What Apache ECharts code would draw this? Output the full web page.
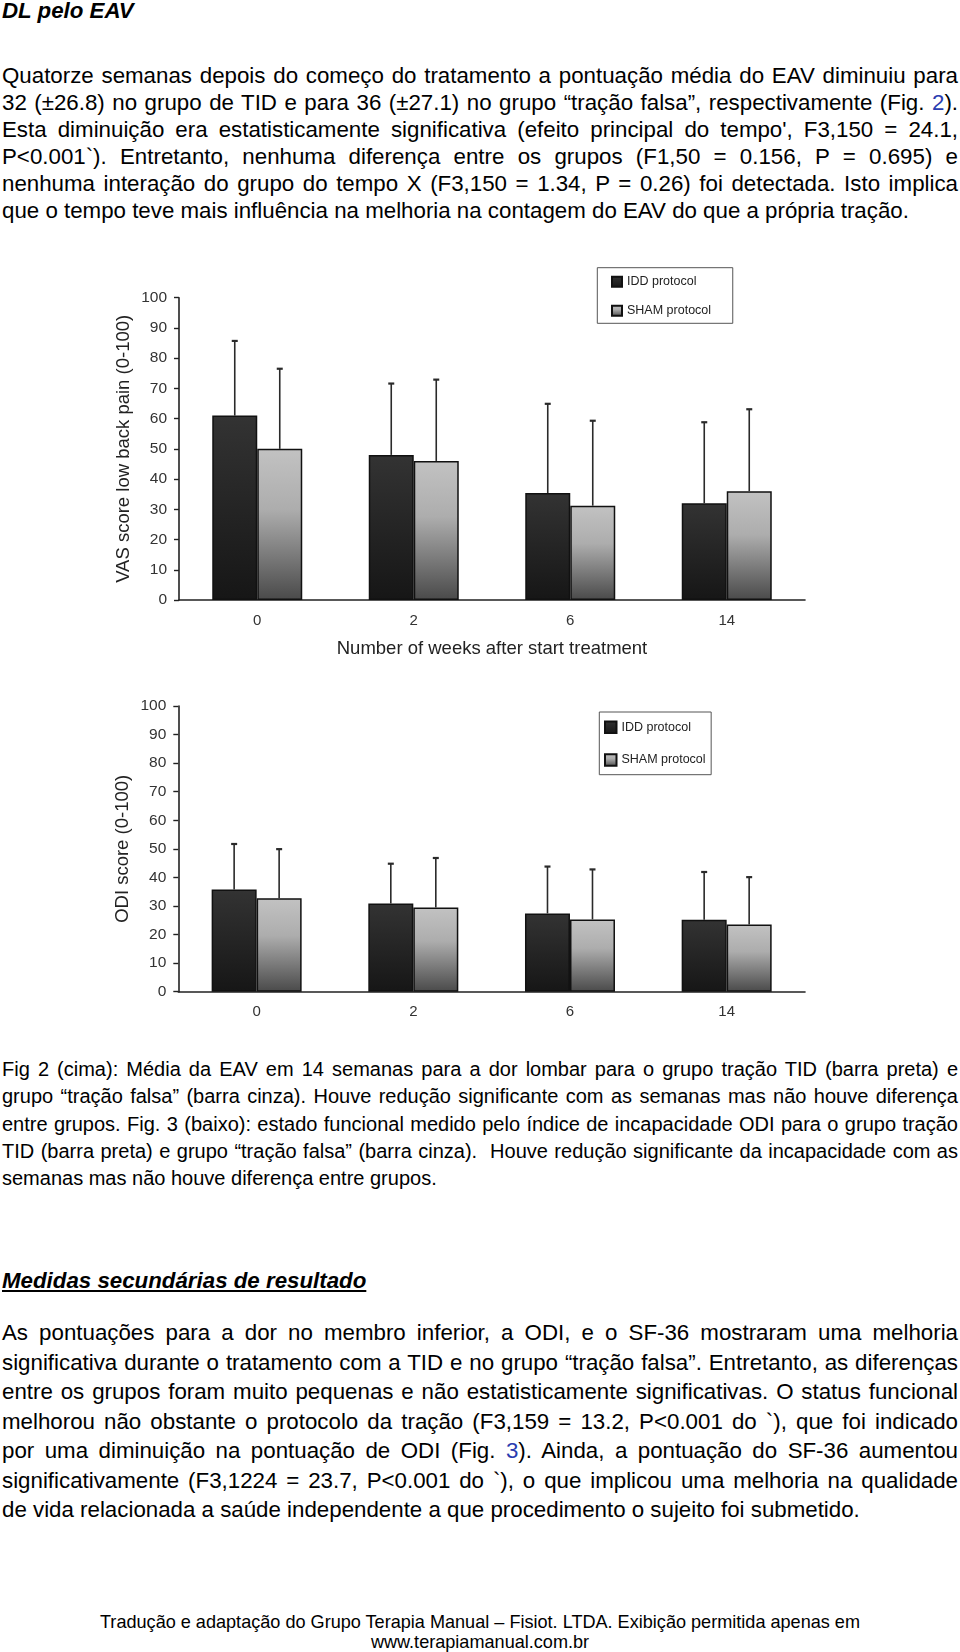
<!DOCTYPE html>
<html>
<head>
<meta charset="utf-8">
<script src="https://cdn.jsdelivr.net/npm/echarts@6/dist/echarts.min.js"></script>
<style>
  html, body { margin:0; padding:0; background:#fff; }
  body { width:960px; height:1652px; position:relative; overflow:hidden;
         font-family:"Liberation Sans", Arial, sans-serif; color:#000; }
  .blk { position:absolute; left:2px; width:956px; }
  .ln { text-align:justify; text-align-last:justify; white-space:normal; }
  .ln.last { text-align:left; text-align-last:left; }
  .h { font-weight:bold; font-style:italic; font-size:22.3px; line-height:26px; }
  .body { font-size:22.3px; line-height:29.5px; }
  .cap { font-size:20px; line-height:27.3px; }
  .foot { position:absolute; left:0; width:960px; text-align:center; font-size:18.1px; line-height:19.5px; }
  .lnk { color:#2a3cb0; }
  #chart { position:absolute; left:0; top:0; width:960px; height:1652px; }
</style>
</head>
<body>
<div class="blk h" style="top:-2px;">DL pelo EAV</div>
<div class="blk body" id="p1" style="top:62px; line-height:27px;"></div>
<div class="blk cap" id="cap" style="top:1056px;"></div>
<div class="blk h" style="top:1268px;"><span style="text-decoration:underline;">Medidas secundárias de resultado</span></div>
<div class="blk body" id="p2" style="top:1318px;"></div>
<div class="foot" style="top:1613px;">Tradução e adaptação do Grupo Terapia Manual – Fisiot. LTDA. Exibição permitida apenas em<br>www.terapiamanual.com.br</div>
<div id="chart"></div>
<script>
// ---- text lines ----
const para1 = [
  'Quatorze semanas depois do começo do tratamento a pontuação média do EAV diminuiu para',
  '32 (±26.8) no grupo de TID e para 36 (±27.1) no grupo “tração falsa”, respectivamente (Fig. <span class="lnk">2</span>).',
  'Esta diminuição era estatisticamente significativa (efeito principal do tempo\', F3,150 = 24.1,',
  'P&lt;0.001`). Entretanto, nenhuma diferença entre os grupos (F1,50 = 0.156, P = 0.695) e',
  'nenhuma interação do grupo do tempo X (F3,150 = 1.34, P = 0.26) foi detectada. Isto implica',
  'que o tempo teve mais influência na melhoria na contagem do EAV do que a própria tração.'
];
const caption = [
  'Fig 2 (cima): Média da EAV em 14 semanas para a dor lombar para o grupo tração TID (barra preta) e',
  'grupo “tração falsa” (barra cinza). Houve redução significante com as semanas mas não houve diferença',
  'entre grupos. Fig. 3 (baixo): estado funcional medido pelo índice de incapacidade ODI para o grupo tração',
  'TID (barra preta) e grupo “tração falsa” (barra cinza).&nbsp; Houve redução significante da incapacidade com as',
  'semanas mas não houve diferença entre grupos.'
];
const para2 = [
  'As pontuações para a dor no membro inferior, a ODI, e o SF-36 mostraram uma melhoria',
  'significativa durante o tratamento com a TID e no grupo “tração falsa”. Entretanto, as diferenças',
  'entre os grupos foram muito pequenas e não estatisticamente significativas. O status funcional',
  'melhorou não obstante o protocolo da tração (F3,159 = 13.2, P&lt;0.001 do `), que foi indicado',
  'por uma diminuição na pontuação de ODI (Fig. <span class="lnk">3</span>). Ainda, a pontuação do SF-36 aumentou',
  'significativamente (F3,1224 = 23.7, P&lt;0.001 do `), o que implicou uma melhoria na qualidade',
  'de vida relacionada a saúde independente a que procedimento o sujeito foi submetido.'
];
function fill(id, lines) {
  document.getElementById(id).innerHTML = lines.map((l, i) =>
    '<div class="ln' + (i === lines.length - 1 ? ' last' : '') + '">' + l + '</div>').join('');
}
fill('p1', para1); fill('cap', caption); fill('p2', para2);

// ---- chart data ----
const weeks = ['0', '2', '6', '14'];
const yTicks = [0, 100, 10];
const vasIDD = [61, 48, 35.4, 32];
const vasIDDsd = [24.7, 23.6, 29.5, 26.8];
const vasSHAM = [50, 46, 31.2, 36];
const vasSHAMsd = [26.5, 26.9, 28.1, 27.1];
const odiIDD = [35.8, 30.9, 27.4, 25.2];
const odiIDDsd = [15.9, 13.9, 16.4, 16.7];
const odiSHAM = [32.7, 29.5, 25.3, 23.5];
const odiSHAMsd = [17.2, 17.3, 17.5, 16.6];
const names = ['IDD protocol', 'SHAM protocol'];

const BAR_W = 45;
const iddFill = { type:'linear', x:0, y:0, x2:0, y2:1,
  colorStops:[{offset:0, color:'#333333'}, {offset:1, color:'#161616'}] };
const shamFill = { type:'linear', x:0, y:0, x2:0, y2:1,
  colorStops:[{offset:0, color:'#c2c2c2'}, {offset:0.4, color:'#adadad'}, {offset:1, color:'#4a4a4a'}] };

function errRender(sign) {
  return function (params, api) {
    const x = api.value(0), m = api.value(1), s = api.value(2);
    const b = api.coord([x, m]);
    const t = api.coord([x, m + s]);
    const px = b[0] + sign * BAR_W / 2;
    return { type:'group', children:[
      { type:'line', shape:{ x1:px, y1:b[1], x2:px, y2:t[1] }, style:{ stroke:'#2a2a2a', lineWidth:1.6 } },
      { type:'line', shape:{ x1:px - 3, y1:t[1], x2:px + 3, y2:t[1] }, style:{ stroke:'#2a2a2a', lineWidth:2.2 } }
    ]};
  };
}

function axesFor(gi, yName, xName) {
  const x = {
    type:'category', gridIndex:gi, data:weeks,
    axisLine:{ lineStyle:{ color:'#222', width:1.6 } },
    axisTick:{ show:false },
    axisLabel:{ color:'#333', fontSize:15, margin:13, fontFamily:'Liberation Sans' },
    name:xName, nameLocation:'middle', nameGap:39, nameMoveOverlap:false,
    nameTextStyle:{ color:'#222', fontSize:18.5, fontFamily:'Liberation Sans' }
  };
  const y = {
    type:'value', gridIndex:gi, min:yTicks[0], max:yTicks[1], interval:yTicks[2],
    axisLine:{ show:true, lineStyle:{ color:'#222', width:1.6 } },
    axisTick:{ show:true, inside:false, length:5, lineStyle:{ color:'#222', width:1.4 } },
    splitLine:{ show:false },
    axisLabel:{ color:'#333', fontSize:15.5, margin:12, fontFamily:'Liberation Sans' },
    name:yName, nameLocation:'middle', nameRotate:90, nameGap:46, nameMoveOverlap:false,
    nameTextStyle:{ color:'#222', fontSize:18.5, fontFamily:'Liberation Sans' }
  };
  return [x, y];
}

const [x0, y0] = axesFor(0, 'VAS score low back pain (0-100)', 'Number of weeks after start treatment');
const [x1, y1] = axesFor(1, 'ODI score (0-100)', '');

function bars(name, vals, fillC, gi) {
  return { type:'bar', name:name, xAxisIndex:gi, yAxisIndex:gi, data:vals,
    barWidth:BAR_W, barGap:'0%',
    itemStyle:{ color:fillC, borderColor:'#111', borderWidth:1.5 }, z:2 };
}
function errs(name, vals, sds, sign, gi) {
  return { type:'custom', name:name, xAxisIndex:gi, yAxisIndex:gi,
    data:vals.map((v, i) => [i, v, sds[i]]), renderItem:errRender(sign), z:3, silent:true };
}

const chart = echarts.init(document.getElementById('chart'), null, { renderer:'canvas' });
chart.setOption({
  animation:false,
  backgroundColor:'transparent',
  textStyle:{ fontFamily:'Liberation Sans' },
  grid:[
    { left:179, top:297.7, width:626, height:302.3 },
    { left:178.3, top:706, width:626.7, height:285.7 }
  ],
  xAxis:[x0, x1],
  yAxis:[y0, y1],
  legend:[
    { data:names, orient:'vertical', left:597.3, top:267.7, icon:'rect',
      itemWidth:10, itemHeight:10, itemGap:15, itemTextGap:7,
      padding:[7, 21.7, 5.6, 13.7], borderColor:'#555', borderWidth:1,
      textStyle:{ color:'#222', fontSize:12.5, lineHeight:14 } },
    { data:names, orient:'vertical', left:599.3, top:712, icon:'rect',
      itemWidth:11.5, itemHeight:11.5, itemGap:18.7, itemTextGap:6,
      padding:[8.3, 5.6, 7.7, 4.7], borderColor:'#555', borderWidth:1,
      textStyle:{ color:'#222', fontSize:12.5, lineHeight:14 } }
  ],
  series:[
    bars(names[0], vasIDD, iddFill, 0),
    bars(names[1], vasSHAM, shamFill, 0),
    errs('IDD sd vas', vasIDD, vasIDDsd, -1, 0),
    errs('SHAM sd vas', vasSHAM, vasSHAMsd, 1, 0),
    bars(names[0], odiIDD, iddFill, 1),
    bars(names[1], odiSHAM, shamFill, 1),
    errs('IDD sd odi', odiIDD, odiIDDsd, -1, 1),
    errs('SHAM sd odi', odiSHAM, odiSHAMsd, 1, 1)
  ]
});
</script>
</body>
</html>
